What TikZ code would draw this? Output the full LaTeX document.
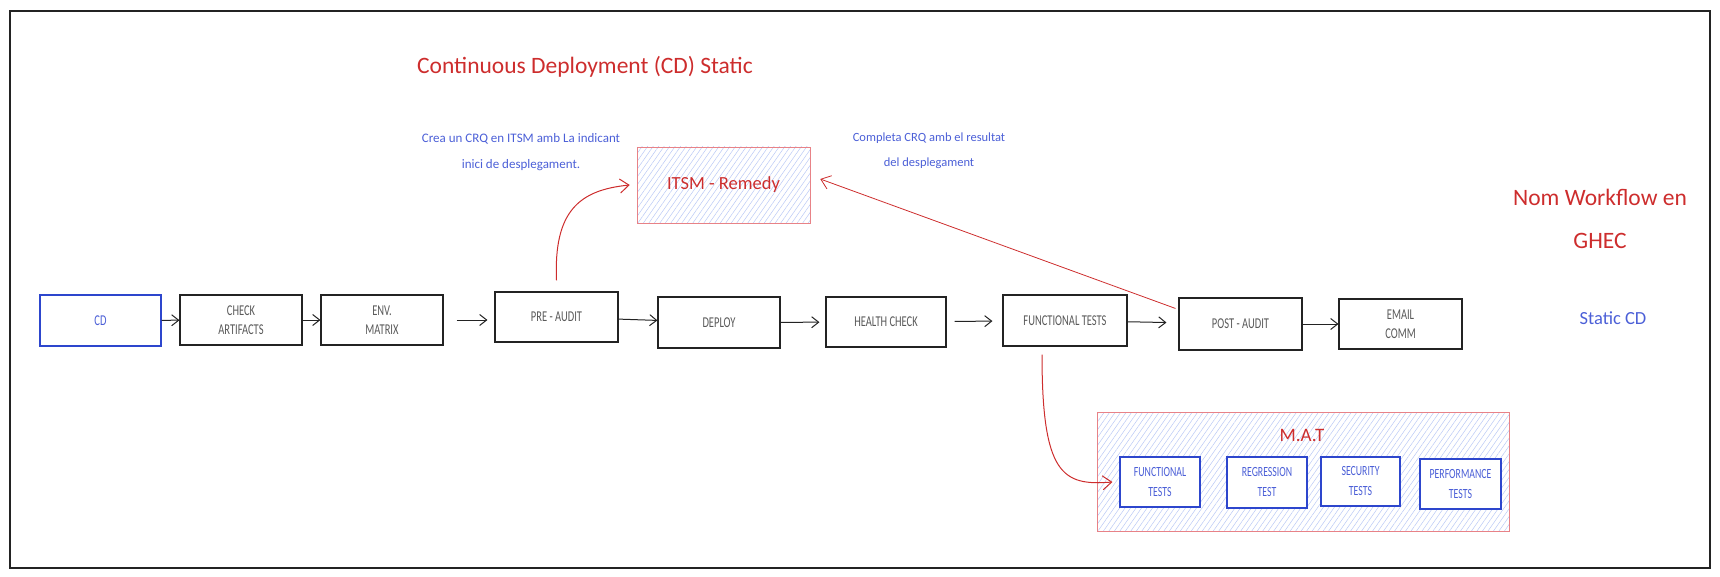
\documentclass[tikz,border=0pt]{standalone}
\usepackage{fontspec}
\setmainfont{Carlito}
\newfontfamily\sketchfont[FakeStretch=0.7]{Carlito}
\usetikzlibrary{arrows.meta,patterns.meta}

\definecolor{inkgray}{RGB}{90,90,90}
\definecolor{boxline}{RGB}{35,35,35}
\definecolor{noteblue}{RGB}{75,95,215}
\definecolor{boxblue}{RGB}{45,70,205}
\definecolor{notered}{RGB}{205,45,45}
\definecolor{edgepink}{RGB}{232,130,135}
\definecolor{hatchblue}{RGB}{185,200,245}

\tikzset{
  stage/.style={draw=boxline, line width=1.1pt, fill=white, text=inkgray, align=center,
    font=\sketchfont\fontsize{15}{19}\selectfont, inner sep=0pt},
  stageblue/.style={stage, draw=boxblue, text=noteblue, font=\sketchfont\fontsize{14}{20}\selectfont},
  zone/.style={draw=edgepink, line width=0.9pt, inner sep=0pt,
    pattern={Lines[angle=55,distance=4.5pt,line width=0.5pt]}, pattern color=hatchblue},
  flow/.style={-{Straight Barb[length=7pt,width=11pt]}, line width=1pt, draw=boxline},
  hook/.style={-{Straight Barb[length=9pt,width=14pt]}, line width=1pt, draw=notered},
}

\begin{document}
\begin{tikzpicture}[x=1pt,y=1pt,yscale=-1]
\useasboundingbox (0,0) rectangle (1720,577);

%Frame
\draw [line width=1.3pt, draw=boxline] (10,11) rectangle (1710,568);

%Shape: Zones
\node [zone, minimum width=173pt, minimum height=76pt, text=notered, font=\fontsize{18.5}{20}\selectfont] (itsm) at (723.5,185) {ITSM - Remedy};
\node [zone, minimum width=412pt, minimum height=119pt] (mat) at (1303,471.5) {};

%Shape: Stages
\node [stageblue, minimum width=121pt, minimum height=51pt, font=\sketchfont\fontsize{15}{19}\selectfont] (cd) at (100.5,320.5) {CD};
\node [stage, minimum width=122pt, minimum height=50pt] (check) at (241,320) {CHECK\\ARTIFACTS};
\node [stage, minimum width=122pt, minimum height=50pt] (env) at (382,320) {ENV.\\MATRIX};
\node [stage, minimum width=123pt, minimum height=50pt] (pre) at (556.5,317) {PRE - AUDIT};
\node [stage, minimum width=122pt, minimum height=51pt] (deploy) at (719,322.5) {DEPLOY};
\node [stage, minimum width=120pt, minimum height=50pt] (health) at (886,322) {HEALTH CHECK};
\node [stage, minimum width=124pt, minimum height=51pt] (func) at (1065,320.5) {FUNCTIONAL TESTS};
\node [stage, minimum width=123pt, minimum height=52pt] (post) at (1240.5,324) {POST - AUDIT};
\node [stage, minimum width=123pt, minimum height=50pt] (email) at (1400.5,324) {EMAIL\\COMM};

%Shape: Tests
\node [stageblue, minimum width=80pt, minimum height=50pt] (ft) at (1160,482) {FUNCTIONAL\\TESTS};
\node [stageblue, minimum width=80pt, minimum height=51pt] (rt) at (1267,482.5) {REGRESSION\\TEST};
\node [stageblue, minimum width=79pt, minimum height=49pt] (st) at (1360.5,481.5) {SECURITY\\TESTS};
\node [stageblue, minimum width=81pt, minimum height=50pt] (pt) at (1460.5,484) {PERFORMANCE\\TESTS};

%Straight Lines
\draw [flow] (cd) -- (check);
\draw [flow] (check) -- (env);
\draw [flow, shorten <=13pt, shorten >=7pt] (env.east) -- (env.east -| pre.west);
\draw [flow] (pre) -- (deploy);
\draw [flow, shorten >=6pt] (deploy) -- (health);
\draw [flow, shorten <=8pt, shorten >=10pt] (health) -- (func);
\draw [flow, shorten >=12pt] (func) -- (post);
\draw [flow] (post) -- (email);

%Curve Lines
\draw [hook] ([yshift=-11pt]pre.north) .. controls +(-3,-70) and +(-50,5) .. ([xshift=-7pt]itsm.west);
\draw [hook, line width=0.8pt] ([xshift=-3pt,yshift=11pt]post.north west) -- ([xshift=10pt,yshift=-6pt]itsm.east);
\draw [hook] ([xshift=-23pt,yshift=8pt]func.south) .. controls +(0,120) and +(-50,4) .. ([xshift=-7pt]ft.west);

% Text Node
\node [text=notered, font=\fontsize{23.5}{26}\selectfont] (title) at (585,67) {Continuous Deployment (CD) Static};
% Text Node
\node [text=noteblue, align=center, font=\fontsize{13}{26}\selectfont] (notecrea) at (521,152) {Crea un CRQ en ITSM amb La indicant\\inici de desplegament.};
% Text Node
\node [text=noteblue, align=center, font=\fontsize{12.5}{25}\selectfont] (notecompleta) at (929,150.5) {Completa CRQ amb el resultat\\del desplegament};
% Text Node
\node [text=notered, font=\fontsize{19}{20}\selectfont] (mattitle) at (1302,435) {M.A.T};
% Text Node
\node [text=notered, align=center, font=\fontsize{23.5}{43}\selectfont] (wfname) at (1600,218.5) {Nom Workflow en\\GHEC};
% Text Node
\node [text=noteblue, font=\fontsize{18.5}{20}\selectfont] (wftag) at (1613,318) {Static CD};

\end{tikzpicture}
\end{document}
